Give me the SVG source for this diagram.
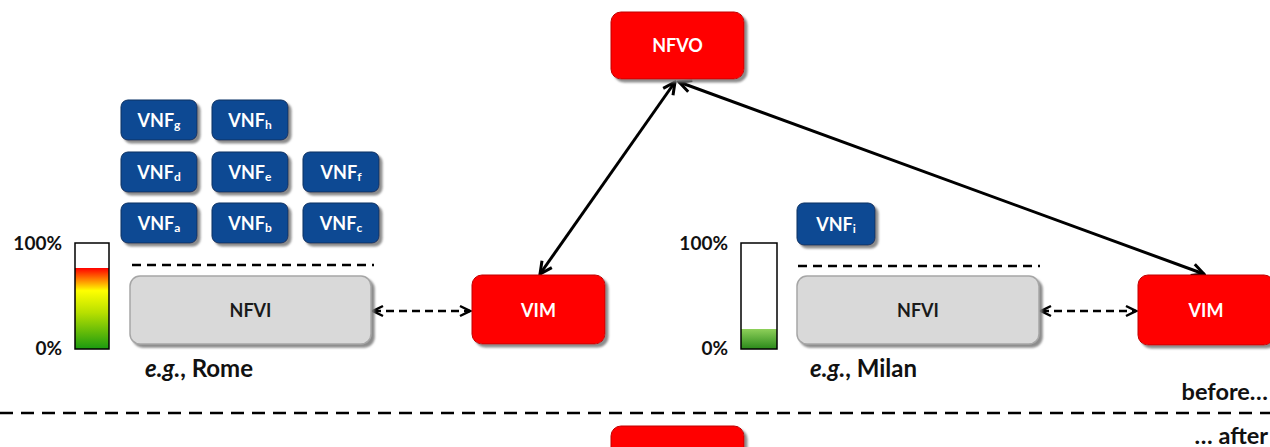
<svg xmlns="http://www.w3.org/2000/svg" width="1270" height="447" viewBox="0 0 1270 447">
<style>
text{font-family:Lato,"Open Sans","Liberation Sans",sans-serif;font-weight:bold}
.red{fill:#ff0000;stroke:#c00000;stroke-width:1}
.blue{fill:#0d4a93;stroke:#082f60;stroke-width:1}
.grey{fill:#d9d9d9;stroke:#a6a6a6;stroke-width:1.5}
.wt{fill:#fff;text-anchor:middle;font-size:18px}
.vnf{fill:#fff;text-anchor:middle;font-size:18px}
.sub{font-size:12px}
.dk{fill:#1a1a1a;text-anchor:middle;font-size:18px}
.pct{fill:#111;font-size:19px;text-anchor:end}
.lbl{fill:#111;font-size:24px}
.side{fill:#111;font-size:23.5px;text-anchor:end}
.dash{stroke:#000;stroke-width:2.5;stroke-dasharray:9 6;fill:none}
.conn{stroke:#000;stroke-width:3;fill:none}
.dconn{stroke:#000;stroke-width:2.5;stroke-dasharray:8 5;fill:none}
</style>
<defs>
<filter id="sh" x="-10%" y="-10%" width="130%" height="140%">
<feDropShadow dx="3" dy="3" stdDeviation="1" flood-color="#7f7f7f" flood-opacity="0.9"/>
</filter>
<linearGradient id="heat" x1="0" y1="0" x2="0" y2="1">
<stop offset="0" stop-color="#ff0000"/>
<stop offset="0.28" stop-color="#ffff00"/>
<stop offset="0.55" stop-color="#b8e000"/>
<stop offset="1" stop-color="#1a9a10"/>
</linearGradient>
<linearGradient id="lowg" x1="0" y1="0" x2="0" y2="1">
<stop offset="0" stop-color="#8ed05a"/>
<stop offset="1" stop-color="#2a8a1a"/>
</linearGradient>
<marker id="ah" viewBox="0 0 16 16" refX="14" refY="8" markerWidth="16" markerHeight="16" markerUnits="userSpaceOnUse" orient="auto-start-reverse">
<path d="M2,2 L14,8 L2,14" fill="none" stroke="#000" stroke-width="3"/>
</marker>
<marker id="ahd" viewBox="0 0 14 14" refX="12" refY="7" markerWidth="14" markerHeight="14" markerUnits="userSpaceOnUse" orient="auto-start-reverse">
<path d="M2,2 L12,7 L2,12" fill="none" stroke="#000" stroke-width="2.5"/>
</marker>
</defs>

<g id="connectors">
<line class="conn" x1="675" y1="82" x2="540" y2="274" marker-start="url(#ah)" marker-end="url(#ah)"/>
<line class="conn" x1="679" y1="82" x2="1204" y2="274" marker-start="url(#ah)" marker-end="url(#ah)"/>
<line class="dconn" x1="373" y1="311" x2="470" y2="311" marker-start="url(#ahd)" marker-end="url(#ahd)"/>
<line class="dconn" x1="1041" y1="311" x2="1136" y2="311" marker-start="url(#ahd)" marker-end="url(#ahd)"/>
</g>

<g id="nfvo">
<rect class="red" x="611" y="12" width="133" height="67" rx="10" filter="url(#sh)"/>
<text class="wt" x="677.5" y="52">NFVO</text>
</g>

<g id="vnf-g"><rect class="blue" x="121" y="100" width="76" height="40" rx="7" filter="url(#sh)"/><text class="vnf" x="159" y="127">VNF<tspan class="sub" dy="2">g</tspan></text></g>
<g id="vnf-h"><rect class="blue" x="212" y="100" width="76" height="40" rx="7" filter="url(#sh)"/><text class="vnf" x="250" y="127">VNF<tspan class="sub" dy="2">h</tspan></text></g>
<g id="vnf-d"><rect class="blue" x="121" y="152" width="76" height="40" rx="7" filter="url(#sh)"/><text class="vnf" x="159" y="179">VNF<tspan class="sub" dy="2">d</tspan></text></g>
<g id="vnf-e"><rect class="blue" x="212" y="152" width="76" height="40" rx="7" filter="url(#sh)"/><text class="vnf" x="250" y="179">VNF<tspan class="sub" dy="2">e</tspan></text></g>
<g id="vnf-f"><rect class="blue" x="303" y="152" width="76" height="40" rx="7" filter="url(#sh)"/><text class="vnf" x="341" y="179">VNF<tspan class="sub" dy="2">f</tspan></text></g>
<g id="vnf-a"><rect class="blue" x="121" y="203" width="76" height="40" rx="7" filter="url(#sh)"/><text class="vnf" x="159" y="230">VNF<tspan class="sub" dy="2">a</tspan></text></g>
<g id="vnf-b"><rect class="blue" x="212" y="203" width="76" height="40" rx="7" filter="url(#sh)"/><text class="vnf" x="250" y="230">VNF<tspan class="sub" dy="2">b</tspan></text></g>
<g id="vnf-c"><rect class="blue" x="303" y="203" width="76" height="40" rx="7" filter="url(#sh)"/><text class="vnf" x="341" y="230">VNF<tspan class="sub" dy="2">c</tspan></text></g>

<g id="rome-bar">
<text class="pct" x="62" y="250">100%</text>
<text class="pct" x="62" y="355">0%</text>
<rect x="75" y="268" width="34" height="81" fill="url(#heat)"/>
<rect x="75" y="243" width="34" height="106" fill="none" stroke="#000" stroke-width="1.5"/>
</g>
<line class="dash" x1="132" y1="265" x2="374" y2="265"/>
<g id="nfvi-rome">
<rect class="grey" x="130" y="276" width="241" height="68" rx="10" filter="url(#sh)"/>
<text class="dk" x="250.5" y="317">NFVI</text>
</g>
<text class="lbl" x="145" y="377"><tspan font-style="italic">e.g.</tspan>, Rome</text>

<g id="vim-rome">
<rect class="red" x="472" y="275" width="133" height="69" rx="10" filter="url(#sh)"/>
<text class="wt" x="538.5" y="317">VIM</text>
</g>

<g id="vnf-i"><rect class="blue" x="797" y="203" width="78" height="42" rx="7" filter="url(#sh)"/><text class="vnf" x="836" y="231">VNF<tspan class="sub" dy="2">i</tspan></text></g>
<g id="milan-bar">
<text class="pct" x="728" y="250">100%</text>
<text class="pct" x="728" y="355">0%</text>
<rect x="741" y="329" width="36" height="20" fill="url(#lowg)"/>
<rect x="741" y="243" width="36" height="106" fill="none" stroke="#000" stroke-width="1.5"/>
</g>
<line class="dash" x1="798" y1="266" x2="1040" y2="266"/>
<g id="nfvi-milan">
<rect class="grey" x="797" y="276" width="242" height="68" rx="10" filter="url(#sh)"/>
<text class="dk" x="918" y="317">NFVI</text>
</g>
<text class="lbl" x="810" y="377"><tspan font-style="italic">e.g.</tspan>, Milan</text>

<g id="vim-milan">
<rect class="red" x="1138" y="275" width="136" height="70" rx="10" filter="url(#sh)"/>
<text class="wt" x="1206" y="317">VIM</text>
</g>

<text class="side" x="1268" y="400">before…</text>
<line x1="0" y1="413" x2="1270" y2="413" stroke="#000" stroke-width="2.5" stroke-dasharray="13 8"/>
<text class="side" x="1268" y="444">… after</text>

<g id="nfvo-after">
<rect class="red" x="611" y="426" width="133" height="60" rx="10" filter="url(#sh)"/>
</g>
</svg>
